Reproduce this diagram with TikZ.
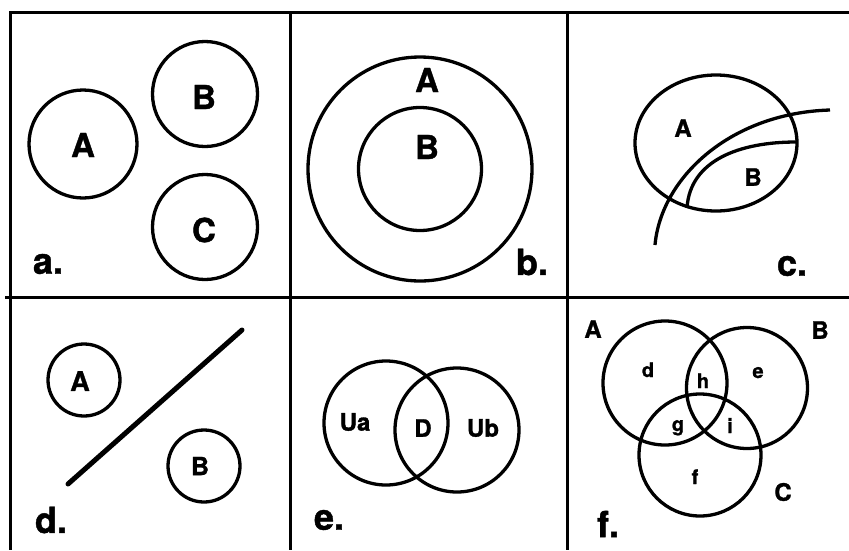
\documentclass[tikz,border=0pt]{standalone}
\usepackage{fontspec}
\setmainfont{TeX Gyre Heros}[BoldFeatures={FakeBold=1.2}]
\usetikzlibrary{shapes.geometric}
\tikzset{
  ring/.style={draw, circle, line width=3.3pt, inner sep=0pt, minimum size=#1},
  lab/.style={font=\fontsize{#1}{#1}\selectfont\bfseries, inner sep=0pt},
  grid/.style={line width=3pt},
  curve/.style={line width=3.3pt}
}
\begin{document}
\begin{tikzpicture}[x=1pt,y=-1pt]
\useasboundingbox (0,0) rectangle (849,550);
% grid
\draw[grid] (10,12) -- (849,12);
\draw[grid] (5,297) -- (849,297);
\draw[grid] (10,11) -- (10,550);
\draw[grid] (290,11) -- (290,550);
\draw[grid] (567,11) -- (567,550);
% panel a
\node[ring=108pt] (aA) at (83,144) {};
\node[ring=105pt] (aB) at (205,94) {};
\node[ring=105pt] (aC) at (205,227) {};
\node[lab=33] (laA) at (83,145) {A};
\node[lab=33] (laB) at (204,97) {B};
\node[lab=33] (laC) at (204,230) {C};
\node[lab=36] (pa) at (48,264) {a.};
% panel b
\node[ring=224pt] (bA) at (420,169) {};
\node[ring=123pt] (bB) at (420,169) {};
\node[lab=33] (lbA) at (427,80) {A};
\node[lab=33] (lbB) at (427,147) {B};
\node[lab=36] (pb) at (532,262) {b.};
% panel c
\node[draw, ellipse, line width=3.3pt, inner sep=0pt, minimum width=162pt, minimum height=136pt] (cA) at (716,143) {};
\draw[curve] (655,245) .. controls (661,178) and (730,113) .. (830,110);
\draw[curve] (687,208) .. controls (690,160) and (740,142) .. (796,142);
\node[lab=24] (lcA) at (683,128) {A};
\node[lab=24] (lcB) at (753,177) {B};
\node[lab=36] (pc) at (792,266) {c.};
% panel d
\node[ring=72pt] (dA) at (84,380) {};
\node[ring=72pt] (dB) at (204,466) {};
\node[lab=27] (ldA) at (80,381) {A};
\node[lab=25] (ldB) at (200,466) {B};
\coordinate (d1) at (68,484);
\coordinate (d2) at (242,330);
\draw[line width=5pt, line cap=round] (d1) -- (d2);
\node[lab=36] (pd) at (51,520) {d.};
% panel e
\node[ring=124pt] (eUa) at (386,423) {};
\node[ring=124pt] (eUb) at (457,430) {};
\node[lab=24] (leUa) at (355,422) {Ua};
\node[lab=24] (leD) at (423,428) {D};
\node[lab=24] (leUb) at (483,428) {Ub};
\node[lab=36] (pe) at (329,520) {e.};
% panel f
\node[ring=124pt] (fA) at (665,383) {};
\node[ring=121pt] (fB) at (747,388) {};
\node[ring=122pt] (fC) at (700,455) {};
\node[lab=24] (lfA) at (593,329) {A};
\node[lab=24] (lfB) at (820,330) {B};
\node[lab=24] (lfC) at (783,492) {C};
\node[lab=20, anchor=base] (lfd) at (648,377) {d};
\node[lab=20, anchor=base] (lfh) at (703,388) {h};
\node[lab=20, anchor=base] (lfe) at (758,378) {e};
\node[lab=20, anchor=base] (lfg) at (678,431) {g};
\node[lab=20, anchor=base] (lfi) at (730,433) {i};
\node[lab=20, anchor=base] (lff) at (695,484) {f};
\node[lab=36] (pf) at (608,524) {f.};
\end{tikzpicture}
\end{document}
